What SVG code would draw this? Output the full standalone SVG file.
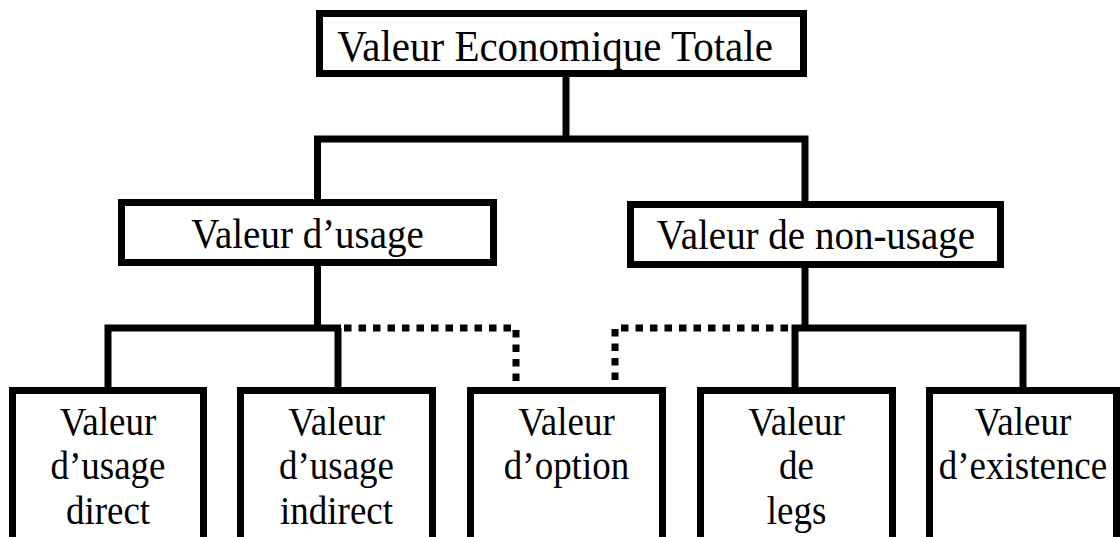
<svg xmlns="http://www.w3.org/2000/svg" width="1120" height="537" viewBox="0 0 1120 537">
<style>
.box{fill:#fff;stroke:#000;stroke-width:7}
.t{font-family:"Liberation Serif","Times New Roman",serif;font-size:37px;fill:#000;text-anchor:middle}
.top{font-size:41px}
.mid{font-size:39px}
.c{fill:none;stroke:#000;stroke-width:7;stroke-linejoin:miter}
.d{fill:none;stroke:#000;stroke-width:7;stroke-dasharray:7.5 7}
</style>
<rect width="1120" height="537" fill="#fff"/>
<g id="connectors">
<polyline class="c" points="566,77 566,139"/>
<polyline class="c" points="317.5,199 317.5,139 805,139 805,201"/>
<polyline class="c" points="317.5,266 317.5,328"/>
<polyline class="c" points="108,387 108,328 341,328"/>
<polyline class="c" points="338,328 338,387"/>
<polyline class="c" points="805,268 805,328"/>
<polyline class="c" points="795,387 795,328 1023,328 1023,387"/>
<polyline class="d" points="344,328 516,328 516,386"/>
<polyline class="d" points="788,328 615,328 615,386"/>
</g>
<g id="n-total">
<rect class="box" x="319.5" y="13.5" width="484" height="60"/>
<text class="t top" transform="translate(555 61) scale(1 1.1)">Valeur Economique Totale</text>
</g>
<g id="n-usage">
<rect class="box" x="121.5" y="202.5" width="372" height="60"/>
<text class="t mid" transform="translate(307.5 248) scale(1 1.1)">Valeur d’usage</text>
</g>
<g id="n-nonusage">
<rect class="box" x="630.5" y="204.5" width="370" height="60"/>
<text class="t mid" transform="translate(816 249) scale(1 1.1)">Valeur de non-usage</text>
</g>
<g id="n-direct">
<rect class="box" x="12.5" y="390.5" width="191" height="160"/>
<text class="t" transform="translate(108 435) scale(1 1.1)">Valeur</text>
<text class="t" transform="translate(108 479) scale(1 1.1)">d’usage</text>
<text class="t" transform="translate(108 524) scale(1 1.1)">direct</text>
</g>
<g id="n-indirect">
<rect class="box" x="240.5" y="390.5" width="192" height="160"/>
<text class="t" transform="translate(336.5 435) scale(1 1.1)">Valeur</text>
<text class="t" transform="translate(336.5 479) scale(1 1.1)">d’usage</text>
<text class="t" transform="translate(336.5 524) scale(1 1.1)">indirect</text>
</g>
<g id="n-option">
<rect class="box" x="470.5" y="390.5" width="192" height="160"/>
<text class="t" transform="translate(566.5 435) scale(1 1.1)">Valeur</text>
<text class="t" transform="translate(566.5 479) scale(1 1.1)">d’option</text>
</g>
<g id="n-legs">
<rect class="box" x="700.5" y="390.5" width="192" height="160"/>
<text class="t" transform="translate(796.5 435) scale(1 1.1)">Valeur</text>
<text class="t" transform="translate(796.5 479) scale(1 1.1)">de</text>
<text class="t" transform="translate(796.5 524) scale(1 1.1)">legs</text>
</g>
<g id="n-existence">
<rect class="box" x="929.5" y="390.5" width="187" height="160"/>
<text class="t" transform="translate(1023 435) scale(1 1.1)">Valeur</text>
<text class="t" transform="translate(1023 479) scale(1 1.1)">d’existence</text>
</g>
</svg>
